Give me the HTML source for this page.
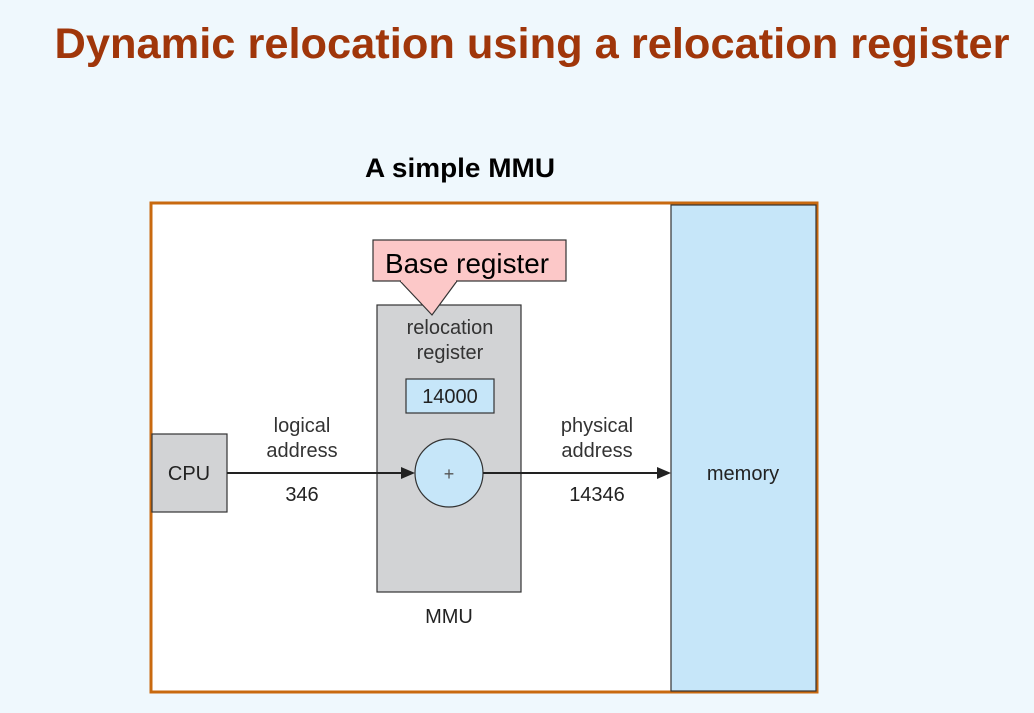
<!DOCTYPE html>
<html><head><style>
body{margin:0;width:1034px;height:708px;background:#eff8fd;overflow:hidden;font-family:"Liberation Sans",sans-serif}
</style></head><body>
<svg width="1034" height="708" xmlns="http://www.w3.org/2000/svg" font-family="Liberation Sans, sans-serif">
<text x="532" y="58" text-anchor="middle" font-size="43" font-weight="bold" fill="#a0360a" textLength="955" lengthAdjust="spacingAndGlyphs">Dynamic relocation using a relocation register</text>
<text x="460" y="177" text-anchor="middle" font-size="27" font-weight="bold" fill="#000" textLength="190" lengthAdjust="spacingAndGlyphs">A simple MMU</text>
<rect x="151" y="203" width="666" height="489" fill="#fff" stroke="#c8690f" stroke-width="3"/>
<rect x="671" y="205" width="145" height="486" fill="#c6e6f9" stroke="#333" stroke-width="1.2"/>
<text x="743" y="480" text-anchor="middle" font-size="20" fill="#222">memory</text>
<rect x="377" y="305" width="144" height="287" fill="#d2d3d5" stroke="#333" stroke-width="1.2"/>
<rect x="373" y="240" width="193" height="41" fill="#fcc8c8" stroke="#333" stroke-width="1.2"/>
<polygon points="400,281 457,281 432,315" fill="#fcc8c8"/>
<polyline points="400,281 432,315 457,281" fill="none" stroke="#333" stroke-width="1.2"/>
<line x1="401" y1="281" x2="456" y2="281" stroke="#fcc8c8" stroke-width="2"/>
<text x="467" y="273" text-anchor="middle" font-size="28" fill="#000" textLength="164" lengthAdjust="spacingAndGlyphs">Base register</text>
<text x="450" y="334" text-anchor="middle" font-size="20" fill="#333">relocation</text>
<text x="450" y="359" text-anchor="middle" font-size="20" fill="#333">register</text>
<rect x="406" y="379" width="88" height="34" fill="#c6e6f9" stroke="#333" stroke-width="1.2"/>
<text x="450" y="403" text-anchor="middle" font-size="20" fill="#222">14000</text>
<rect x="152" y="434" width="75" height="78" fill="#d2d3d5" stroke="#333" stroke-width="1.2"/>
<text x="189" y="480" text-anchor="middle" font-size="20" fill="#222">CPU</text>
<line x1="227" y1="473" x2="405" y2="473" stroke="#222" stroke-width="2"/>
<polygon points="415,473 401,467 401,479" fill="#222"/>
<circle cx="449" cy="473" r="34" fill="#c6e6f9" stroke="#333" stroke-width="1.2"/>
<text x="449" y="480" text-anchor="middle" font-size="18" fill="#555">+</text>
<line x1="483" y1="473" x2="661" y2="473" stroke="#222" stroke-width="2"/>
<polygon points="671,473 657,467 657,479" fill="#222"/>
<text x="302" y="432" text-anchor="middle" font-size="20" fill="#333">logical</text>
<text x="302" y="457" text-anchor="middle" font-size="20" fill="#333">address</text>
<text x="302" y="501" text-anchor="middle" font-size="20" fill="#222">346</text>
<text x="597" y="432" text-anchor="middle" font-size="20" fill="#333">physical</text>
<text x="597" y="457" text-anchor="middle" font-size="20" fill="#333">address</text>
<text x="597" y="501" text-anchor="middle" font-size="20" fill="#222">14346</text>
<text x="449" y="623" text-anchor="middle" font-size="20" fill="#222">MMU</text>
</svg>
</body></html>
